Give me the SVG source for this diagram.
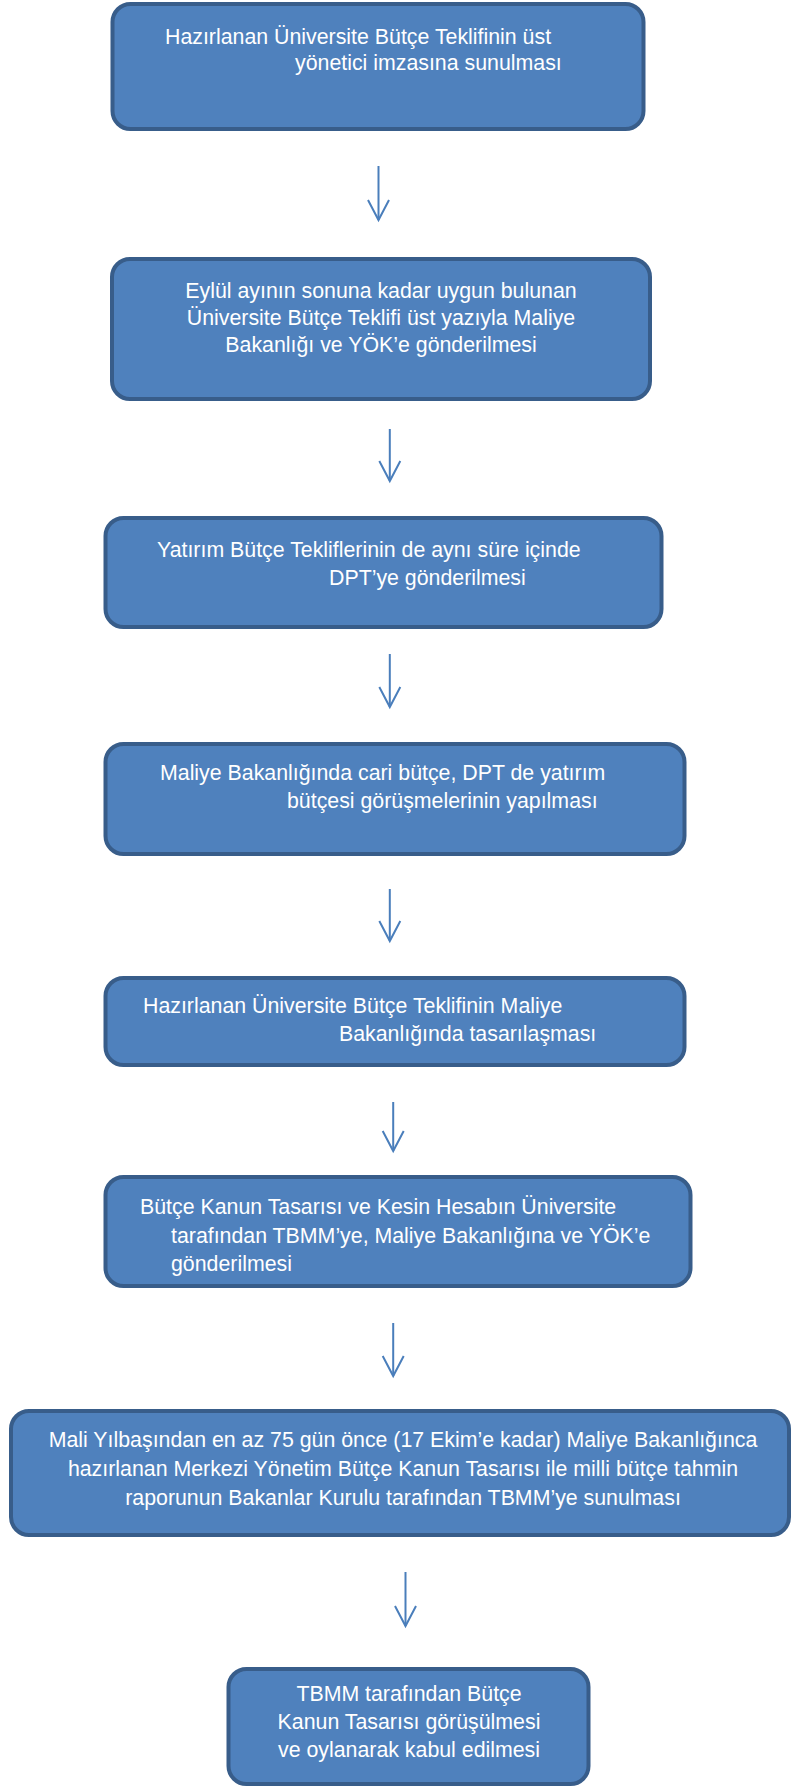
<svg xmlns="http://www.w3.org/2000/svg" width="791" height="1787" viewBox="0 0 791 1787">
<style>
.box{fill:#4F81BD;stroke:#385D8A;stroke-width:4}
.t{font-family:"Liberation Sans",Arial,sans-serif;font-size:21.33px;fill:#FFFFFF}
.c{text-anchor:middle}
.arr{stroke:#4A7EBB;stroke-width:2;fill:none;marker-end:url(#ah)}
</style>
<defs>
<marker id="ah" markerUnits="userSpaceOnUse" orient="auto" refX="0" refY="0" markerWidth="30" markerHeight="30" overflow="visible">
<path d="M-20,-10.5 L0,0 L-20,10.5" fill="none" stroke="#4A7EBB" stroke-width="2"/>
</marker>
</defs>
<g id="connectors">
<line class="arr" x1="378.5" y1="166" x2="378.5" y2="220"/>
<line class="arr" x1="389.8" y1="429" x2="389.8" y2="481"/>
<line class="arr" x1="389.8" y1="654" x2="389.8" y2="707"/>
<line class="arr" x1="389.8" y1="889" x2="389.8" y2="941"/>
<line class="arr" x1="393.2" y1="1102" x2="393.2" y2="1151"/>
<line class="arr" x1="393.2" y1="1323" x2="393.2" y2="1376"/>
<line class="arr" x1="405.5" y1="1572" x2="405.5" y2="1626"/>
</g>
<g id="n1">
<rect class="box" x="112.5" y="4" width="531" height="125" rx="18"/>
<text class="t" x="165" y="44">Hazırlanan Üniversite Bütçe Teklifinin üst</text>
<text class="t" x="295" y="70">yönetici imzasına sunulması</text>
</g>
<g id="n2">
<rect class="box" x="112" y="259" width="538" height="140" rx="18"/>
<text class="t c" x="381" y="298">Eylül ayının sonuna kadar uygun bulunan</text>
<text class="t c" x="381" y="325">Üniversite Bütçe Teklifi üst yazıyla Maliye</text>
<text class="t c" x="381" y="352">Bakanlığı ve YÖK’e gönderilmesi</text>
</g>
<g id="n3">
<rect class="box" x="105.5" y="518" width="556" height="109" rx="18"/>
<text class="t" x="157" y="557">Yatırım Bütçe Tekliflerinin de aynı süre içinde</text>
<text class="t" x="329" y="585">DPT’ye gönderilmesi</text>
</g>
<g id="n4">
<rect class="box" x="105.5" y="744" width="579" height="110" rx="18"/>
<text class="t" x="160" y="780">Maliye Bakanlığında cari bütçe, DPT de yatırım</text>
<text class="t" x="287" y="808">bütçesi görüşmelerinin yapılması</text>
</g>
<g id="n5">
<rect class="box" x="105.5" y="978" width="579" height="87" rx="18"/>
<text class="t" x="143" y="1013">Hazırlanan Üniversite Bütçe Teklifinin Maliye</text>
<text class="t" x="339" y="1041">Bakanlığında tasarılaşması</text>
</g>
<g id="n6">
<rect class="box" x="105.5" y="1177" width="585" height="109" rx="18"/>
<text class="t" x="140" y="1214">Bütçe Kanun Tasarısı ve Kesin Hesabın Üniversite</text>
<text class="t" x="171" y="1243">tarafından TBMM’ye, Maliye Bakanlığına ve YÖK’e</text>
<text class="t" x="171" y="1271">gönderilmesi</text>
</g>
<g id="n7">
<rect class="box" x="11" y="1411" width="778" height="124" rx="18"/>
<text class="t c" x="403" y="1447">Mali Yılbaşından en az 75 gün önce (17 Ekim’e kadar) Maliye Bakanlığınca</text>
<text class="t c" x="403" y="1476">hazırlanan Merkezi Yönetim Bütçe Kanun Tasarısı ile milli bütçe tahmin</text>
<text class="t c" x="403" y="1505">raporunun Bakanlar Kurulu tarafından TBMM’ye sunulması</text>
</g>
<g id="n8">
<rect class="box" x="228.5" y="1669" width="360" height="115" rx="18"/>
<text class="t c" x="409" y="1701">TBMM tarafından Bütçe</text>
<text class="t c" x="409" y="1729">Kanun Tasarısı görüşülmesi</text>
<text class="t c" x="409" y="1757">ve oylanarak kabul edilmesi</text>
</g>
</svg>
